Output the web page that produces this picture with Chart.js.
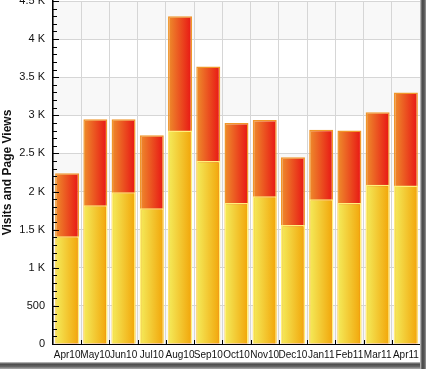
<!DOCTYPE html>
<html><head><meta charset="utf-8">
<script src="https://cdn.jsdelivr.net/npm/chart.js@4/dist/chart.umd.min.js"></script>
<style>html,body{margin:0;padding:0;background:#fff;overflow:hidden}#wrap{width:426px;height:369px;position:relative}</style>
</head><body><div id="wrap"><canvas id="c" width="426" height="369"></canvas></div>
<script>
const categories = ['Apr10','May10','Jun10','Jul10','Aug10','Sep10','Oct10','Nov10','Dec10','Jan11','Feb11','Mar11','Apr11'];
const visits     = [1415, 1820, 1990, 1780, 2800, 2400, 1850, 1940, 1560, 1900, 1850, 2090, 2080];
const pageViews  = [2240, 2950, 2950, 2740, 4300, 3640, 2900, 2940, 2450, 2810, 2800, 3040, 3300];
const yTickValues = [0, 500, 1000, 1500, 2000, 2500, 3000, 3500, 4000, 4500];
const yTickLabels = ['0', '500', '1 K', '1.5 K', '2 K', '2.5 K', '3 K', '3.5 K', '4 K', '4.5 K'];
const yTitle = 'Visits and Page Views';

const BAR_PCT = 0.85;
function barGrad(ctx, c0, c1) {
  const chart = ctx.chart, xs = chart.scales && chart.scales.x;
  if (!xs || ctx.type !== 'data') return c1;
  const c = xs.getPixelForValue(ctx.dataIndex);
  const w = (xs.width / categories.length) * BAR_PCT;
  if (!isFinite(c) || !isFinite(w) || w <= 0) return c1;
  const g = chart.ctx.createLinearGradient(c - w / 2, 0, c + w / 2, 0);
  g.addColorStop(0, c0);
  g.addColorStop(1, c1);
  return g;
}

const decor = {
  id: 'decor',
  beforeDraw(chart) {
    const {ctx, chartArea: a, scales: {y}} = chart;
    ctx.save();
    ctx.fillStyle = '#f8f8f8';
    for (let v = 0; v < 4500; v += 1000) {
      const t = y.getPixelForValue(v + 500), b = y.getPixelForValue(v);
      ctx.fillRect(a.left, t, a.right - a.left, b - t);
    }
    ctx.restore();
  },
  afterDraw(chart) {
    const {ctx, chartArea: a, scales: {x, y}} = chart;
    ctx.save();
    ctx.strokeStyle = '#000';
    ctx.lineWidth = 1;
    ctx.beginPath();
    for (let v = 0; v <= 4500; v += 100) {
      const p = Math.round(y.getPixelForValue(v)) + 0.5;
      const len = v % 500 === 0 ? 6 : 4;
      ctx.moveTo(a.left, p); ctx.lineTo(a.left + len, p);
    }
    for (let i = 1; i <= categories.length; i++) {
      let bx;
      if (i === categories.length) bx = a.right;
      else bx = (x.getPixelForValue(i - 1) + x.getPixelForValue(i)) / 2;
      bx = Math.round(bx) + 0.5;
      ctx.moveTo(bx, a.bottom - 4); ctx.lineTo(bx, a.bottom);
    }
    ctx.stroke();
    // frame shadow
    const W = chart.width, H = chart.height;
    let g = ctx.createLinearGradient(420, 0, 426, 0);
    g.addColorStop(0, '#d0d0d0'); g.addColorStop(0.35, '#4a4a4a'); g.addColorStop(0.7, '#555'); g.addColorStop(1, '#9a9a9a');
    ctx.fillStyle = g;
    ctx.fillRect(420, 0, 6, H);
    g = ctx.createLinearGradient(0, 362, 0, 369);
    g.addColorStop(0, '#cfcfcf'); g.addColorStop(0.3, '#4a4a4a'); g.addColorStop(0.65, '#666'); g.addColorStop(1, '#b0b0b0');
    ctx.fillStyle = g;
    ctx.fillRect(0, 362, 420, 7);
    ctx.restore();
  }
};

new Chart(document.getElementById('c'), {
  type: 'bar',
  data: {
    labels: categories,
    datasets: [
      {
        label: 'Visits',
        data: visits,
        order: 1,
        stack: 's',
        backgroundColor: (ctx) => barGrad(ctx, '#f4ec5c', '#f2a408'),
        borderColor: '#fff07a',
        borderWidth: 1.5,
        barPercentage: BAR_PCT,
        categoryPercentage: 1
      },
      {
        label: 'Page Views',
        data: pageViews,
        order: 2,
        stack: 's',
        backgroundColor: (ctx) => barGrad(ctx, '#ee8e2c', '#e81414'),
        borderColor: '#f0962a',
        borderWidth: 1.5,
        barPercentage: BAR_PCT,
        categoryPercentage: 1
      }
    ]
  },
  options: {
    responsive: false,
    devicePixelRatio: 1,
    animation: false,
    layout: {padding: {left: 0, right: 6, top: 1, bottom: 0}},
    plugins: {legend: {display: false}, tooltip: {enabled: false}},
    scales: {
      x: {
        stacked: true,
        grid: {display: true, offset: true, color: '#d6d6d6', lineWidth: 1, drawTicks: false},
        border: {display: true, color: '#000', width: 1},
        ticks: {
          autoSkip: false, maxRotation: 0, minRotation: 0, padding: 5,
          color: '#111', font: {family: '"Liberation Sans", Arial, sans-serif', size: 10}
        },
        afterFit(s) { s.height = 25; s.paddingLeft = 0; s.paddingRight = 0; s.paddingTop = 0; s.paddingBottom = 0; }
      },
      y: {
        stacked: false,
        min: 0, max: 4500,
        grid: {color: '#d6d6d6', lineWidth: 1, drawTicks: false},
        border: {display: true, color: '#000', width: 1.5},
        ticks: {
          stepSize: 500, padding: 8, color: '#111',
          font: {family: '"Liberation Sans", Arial, sans-serif', size: 11},
          callback: (v) => { const i = yTickValues.indexOf(v); return i >= 0 ? yTickLabels[i] : ''; }
        },
        title: {
          display: true, text: yTitle, color: '#111',
          font: {family: '"Liberation Sans", Arial, sans-serif', size: 12, weight: 'bold'},
          padding: {top: 0, bottom: 0}
        },
        afterFit(s) { s.width = 53; s.paddingLeft = 0; s.paddingRight = 0; s.paddingTop = 0; s.paddingBottom = 0; }
      }
    }
  },
  plugins: [decor]
});
</script>
</body></html>
